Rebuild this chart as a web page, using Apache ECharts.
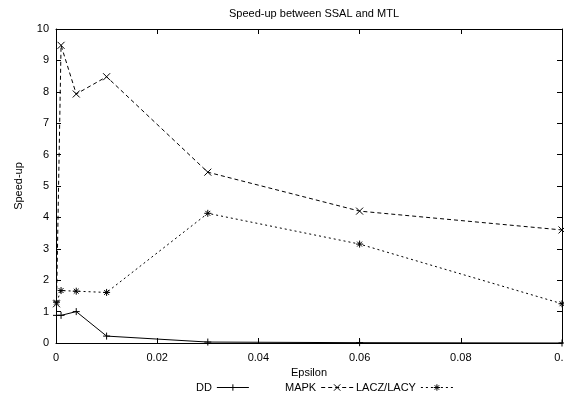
<!DOCTYPE html>
<html>
<head>
<meta charset="utf-8">
<script src="https://cdn.jsdelivr.net/npm/echarts@6/dist/echarts.min.js"></script>
<style>
  html, body { margin: 0; padding: 0; background: #fff; }
  #chart { width: 564px; height: 396px; }
</style>
</head>
<body>
<div id="chart"></div>
<script>
// Epsilon values at which each speed-up was measured
var epsilon = [0.0001, 0.001, 0.004, 0.01, 0.03, 0.06, 0.1];

// Speed-up of SSAL over MTL for each model
var ddSpeedup   = [0.88, 0.88, 1.0, 0.22, 0.03, 0.01, 0.0];
var mapkSpeedup = [1.25, 9.48, 7.93, 8.48, 5.44, 4.2, 3.6];
var laczSpeedup = [1.3, 1.67, 1.65, 1.61, 4.13, 3.15, 1.25];

var seriesNames = ['DD', 'MAPK', 'LACZ/LACY'];
var xTicks = [0, 0.02, 0.04, 0.06, 0.08, 0.1];
var yTicks = [0, 1, 2, 3, 4, 5, 6, 7, 8, 9, 10];

var FONT = '"Liberation Sans", Arial, sans-serif';

// gnuplot-like point glyphs
var plusPath = 'path://M5,0L5,10M0,5L10,5';
var crossPath = 'path://M0,0L10,10M0,10L10,0';
var starPath = 'path://M5,0L5,10M0,5L10,5M1.5,1.5L8.5,8.5M1.5,8.5L8.5,1.5';

function pairs(xs, ys) {
  return xs.map(function (x, i) { return [x, ys[i]]; });
}

function lineSeries(name, values, symbol, dash) {
  return {
    name: name,
    type: 'line',
    data: pairs(epsilon, values),
    symbol: symbol,
    symbolSize: 7,
    showAllSymbol: true,
    clip: true,
    lineStyle: { color: '#000', width: 1, type: dash },
    itemStyle: { color: '#000', borderColor: '#000', borderWidth: 1 },
    emphasis: { disabled: true },
    animation: false
  };
}

var chart = echarts.init(document.getElementById('chart'), null, { renderer: 'canvas' });

var legendBase = {
  orient: 'horizontal',
  align: 'right',
  top: 382,
  padding: 0,
  itemWidth: 32,
  itemHeight: 8,
  selectedMode: false,
  lineStyle: { width: 1, color: '#000' },
  itemStyle: { color: '#000', borderColor: '#000', borderWidth: 1 },
  textStyle: { fontFamily: FONT, fontSize: 11, color: '#000' }
};

var axisFrameLine = { show: true, onZero: false, lineStyle: { color: '#000', width: 1 } };

chart.setOption({
  backgroundColor: '#fff',
  animation: false,
  title: {
    text: 'Speed-up between SSAL and MTL',
    left: 309,
    textAlign: 'center',
    top: 3,
    textStyle: { fontFamily: FONT, fontSize: 11, fontWeight: 'normal', color: '#000' }
  },
  legend: [
    Object.assign({}, legendBase, { data: [seriesNames[0]], left: 196 }),
    Object.assign({}, legendBase, { data: [seriesNames[1]], left: 285 }),
    Object.assign({}, legendBase, { data: [seriesNames[2]], left: 356 })
  ],
  grid: { left: 56, right: 2, top: 29, bottom: 53, containLabel: false, outerBoundsMode: 'none' },
  xAxis: [
    {
      type: 'value',
      position: 'bottom',
      min: xTicks[0],
      max: xTicks[xTicks.length - 1],
      interval: xTicks[1] - xTicks[0],
      name: 'Epsilon',
      nameLocation: 'middle',
      nameGap: 22,
      nameTextStyle: { fontFamily: FONT, fontSize: 11, color: '#000' },
      axisLine: axisFrameLine,
      axisTick: { show: true, inside: true, length: 5, lineStyle: { color: '#000' } },
      axisLabel: {
        show: true, margin: 9, fontFamily: FONT, fontSize: 11, color: '#000',
        showMinLabel: true, showMaxLabel: true, hideOverlap: false
      },
      splitLine: { show: false }
    },
    {
      type: 'value',
      position: 'top',
      min: xTicks[0],
      max: xTicks[xTicks.length - 1],
      interval: xTicks[1] - xTicks[0],
      axisLine: axisFrameLine,
      axisTick: { show: true, inside: true, length: 5, lineStyle: { color: '#000' } },
      axisLabel: { show: false },
      splitLine: { show: false }
    }
  ],
  yAxis: [
    {
      type: 'value',
      position: 'left',
      min: yTicks[0],
      max: yTicks[yTicks.length - 1],
      interval: yTicks[1] - yTicks[0],
      name: 'Speed-up',
      nameLocation: 'middle',
      nameRotate: 90,
      nameGap: 32,
      nameTextStyle: { fontFamily: FONT, fontSize: 11, color: '#000' },
      axisLine: axisFrameLine,
      axisTick: { show: true, inside: true, length: 5, lineStyle: { color: '#000' } },
      axisLabel: { show: true, margin: 7, fontFamily: FONT, fontSize: 11, color: '#000' },
      splitLine: { show: false }
    },
    {
      type: 'value',
      position: 'right',
      min: yTicks[0],
      max: yTicks[yTicks.length - 1],
      interval: yTicks[1] - yTicks[0],
      axisLine: axisFrameLine,
      axisTick: { show: true, inside: true, length: 5, lineStyle: { color: '#000' } },
      axisLabel: { show: false },
      splitLine: { show: false }
    }
  ],
  series: [
    lineSeries(seriesNames[0], ddSpeedup, plusPath, 'solid'),
    lineSeries(seriesNames[1], mapkSpeedup, crossPath, [4, 3]),
    lineSeries(seriesNames[2], laczSpeedup, starPath, [2, 3])
  ]
});
</script>
</body>
</html>
